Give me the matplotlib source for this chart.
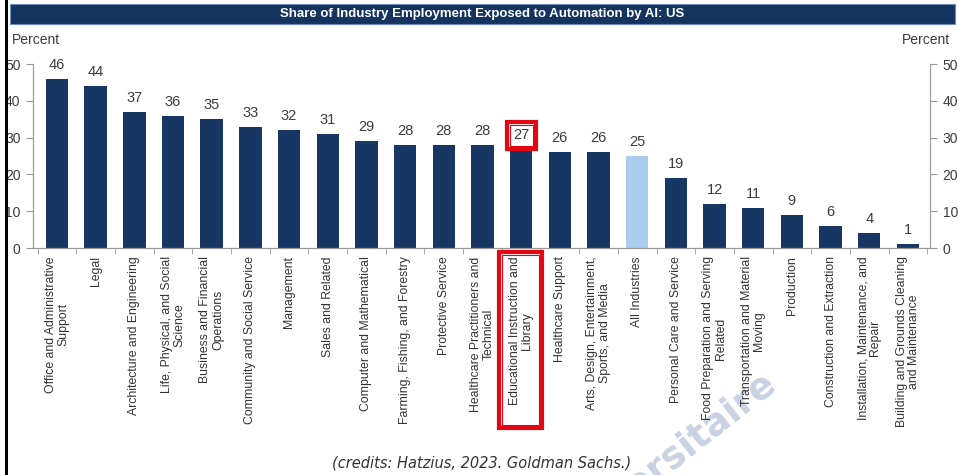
import numpy as np
import matplotlib
matplotlib.use("Agg")
import matplotlib.pyplot as plt
from matplotlib.patches import Rectangle

plt.rcParams["font.family"] = ["Liberation Sans", "DejaVu Sans"]

# ── data ───────────────────────────────────────────────────────────────────
industries = [
    "Office and Administrative\nSupport",
    "Legal",
    "Architecture and Engineering",
    "Life, Physical, and Social\nScience",
    "Business and Financial\nOperations",
    "Community and Social Service",
    "Management",
    "Sales and Related",
    "Computer and Mathematical",
    "Farming, Fishing, and Forestry",
    "Protective Service",
    "Healthcare Practitioners and\nTechnical",
    "Educational Instruction and\nLibrary",
    "Healthcare Support",
    "Arts, Design, Entertainment,\nSports, and Media",
    "All Industries",
    "Personal Care and Service",
    "Food Preparation and Serving\nRelated",
    "Transportation and Material\nMoving",
    "Production",
    "Construction and Extraction",
    "Installation, Maintenance, and\nRepair",
    "Building and Grounds Cleaning\nand Maintenance",
]
share = [46, 44, 37, 36, 35, 33, 32, 31, 29, 28, 28, 28, 27, 26, 26, 25,
         19, 12, 11, 9, 6, 4, 1]
y_ticks = [0, 10, 20, 30, 40, 50]
highlight = "All Industries"
boxed = "Educational Instruction and\nLibrary"

navy = "#173664"
light = "#a9cdef"
grey_txt = "#3c3c3c"

W, H = 958, 475
fig = plt.figure(figsize=(W / 100, H / 100), dpi=100)

def fx(px):
    return px / W

def fy(py):
    return 1 - py / H

# watermark (behind everything)
fig.text(fx(778), fy(386), "Universitaire", ha="right", va="baseline", rotation=38,
         rotation_mode="anchor", fontsize=27, fontweight="bold",
         color="#bcc7db", alpha=0.8, family="DejaVu Sans", zorder=-1)

ax = fig.add_axes([fx(33), fy(248), fx(930) - fx(33), fy(64) - fy(248)])
ax.patch.set_alpha(0)
x = np.arange(len(industries))
colors = [light if n == highlight else navy for n in industries]
bars = ax.bar(x, share, width=0.58, color=colors, zorder=2)

for xi, v in zip(x, share):
    ax.annotate(f"{v}", (xi, v), xytext=(0, 5), textcoords="offset points",
                ha="center", va="bottom", fontsize=10.5, color=grey_txt)

ax.set_xlim(-0.62, len(industries) - 1 + 0.57)
ax.set_ylim(0, 50)
ax.set_yticks(y_ticks)
ax.set_xticks(x)
ax.set_xticklabels(industries, rotation=90, ha="center", va="top",
                   multialignment="center", fontsize=8.8, color="#333333",
                   linespacing=1.05)
ax.tick_params(axis="x", length=0, pad=6)
ax.set_xticks(np.arange(len(industries) + 1) - 0.5, minor=True)
ax.tick_params(axis="x", which="minor", length=4, color="#999999", direction="out")
ax.tick_params(axis="y", length=5, color="#999999", labelsize=10,
               labelcolor=grey_txt, left=True, right=True,
               labelleft=True, labelright=True, pad=4)
for side in ["left", "right", "bottom"]:
    ax.spines[side].set_color("#9a9a9a")
    ax.spines[side].set_linewidth(0.9)
ax.spines["top"].set_visible(False)

fig.text(fx(12), fy(40), "Percent", fontsize=10, color=grey_txt, va="center")
fig.text(fx(950), fy(40), "Percent", fontsize=10, color=grey_txt, va="center",
         ha="right")

# title banner
fig.add_artist(Rectangle((fx(10), fy(24)), fx(955) - fx(10), fy(4) - fy(24),
                         transform=fig.transFigure, facecolor="#15335f",
                         edgecolor="#6f8fb8", lw=0.8))
fig.text(fx(482), fy(14), "Share of Industry Employment Exposed to Automation by AI: US",
         ha="center", va="center", color="white", fontsize=9.5, fontweight="bold")

# credits
fig.text(fx(482), fy(463), "(credits: Hatzius, 2023. Goldman Sachs.)",
         ha="center", va="center", fontsize=10.5, style="italic", color="#333333",
         family="DejaVu Sans")

# red highlight boxes around the education bar
idx = industries.index(boxed)
def red_box(x0, y0, x1, y1):
    fig.add_artist(Rectangle((fx(x0), fy(y1)), fx(x1) - fx(x0), fy(y0) - fy(y1),
                             transform=fig.transFigure, fill=False,
                             edgecolor="#e30613", lw=3, zorder=10))
    fig.add_artist(Rectangle((fx(x0 + 3), fy(y1 - 3)), fx(x1 - x0 - 6), fy(y0 + 3) - fy(y1 - 3),
                             transform=fig.transFigure, fill=False,
                             edgecolor="#e30613", lw=0.8, zorder=10))

px_bar = ax.transData.transform((idx, share[idx]))
cx = px_bar[0]
red_box(cx - 14, 122, cx + 15, 149)
red_box(cx - 22, 252, cx + 21, 428)

# left border
fig.add_artist(Rectangle((0, 0), fx(6), 1, transform=fig.transFigure,
                         facecolor="white", edgecolor="none", zorder=11))
fig.add_artist(Rectangle((fx(5), 0), fx(3), 1, transform=fig.transFigure,
                         facecolor="black", edgecolor="none", zorder=12))

fig.savefig("out.png", dpi=100)
